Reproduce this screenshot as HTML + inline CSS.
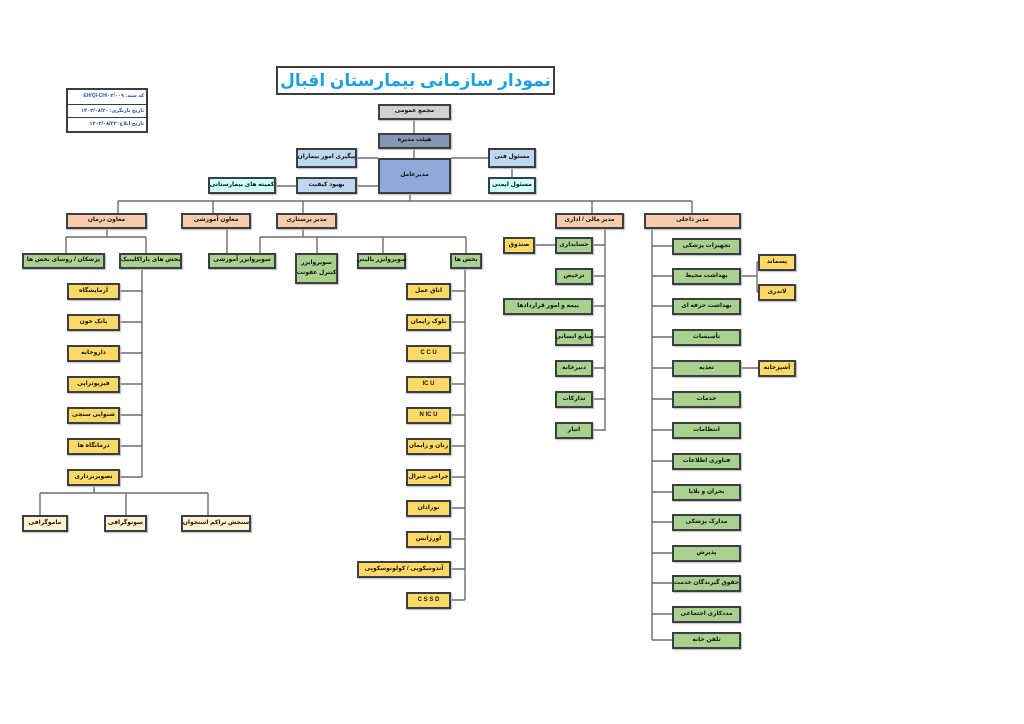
<!DOCTYPE html>
<html><head><meta charset="utf-8">
<style>
body{margin:0;width:1024px;height:724px;background:#fff;position:relative;overflow:hidden;font-family:"Liberation Sans","DejaVu Sans",sans-serif;}
.b{position:absolute;box-sizing:border-box;border:2px solid #3a3f44;display:flex;align-items:center;justify-content:center;font-size:6px;font-weight:bold;color:#111;direction:rtl;text-align:center;line-height:1.6;white-space:nowrap;box-shadow:1px 1px 1px #bbb;}
.y{background:#ffd966}.g{background:#a9d08e}.p{background:#f8cbad}.ly{background:#fff2cc}.lb{background:#bdd7ee}.c{background:#ccffff}
svg{position:absolute;left:0;top:0}
</style></head><body>
<svg width="1024" height="724" stroke="#6b6b6b" stroke-width="1.4" fill="none">
<path d="M414 120V133M414 149V158M357 158H378M451 158H488M512 168V177M357 186H378M276 186H296M410 194V201M118 201H692M118 201V213M213 201V213M303 201V213M592 201V213M692 201V213"/>
<path d="M107 229V237M66 237H146M66 237V253M146 237V253M142 269V477M120 291H142M120 322H142M120 353H142M120 384H142M120 415H142M120 446H142M120 477H142M94 485V493M40 493H208M40 493V515M126 493V515M208 493V515"/>
<path d="M227 229V253M303 229V237M260 237H466M260 237V253M317 237V253M383 237V253M466 237V253M465 269V600M451 291H465M451 322H465M451 353H465M451 384H465M451 415H465M451 446H465M451 477H465M451 508H465M451 539H465M451 569H465M451 600H465"/>
<path d="M605 229V431M593 245H605M535 245H555M593 276H605M593 306H605M593 337H605M593 368H605M593 399H605M593 430H605"/>
<path d="M652 229V640M652 246H672M652 276H672M652 306H672M652 337H672M652 368H672M652 399H672M652 430H672M652 461H672M652 492H672M652 522H672M652 553H672M652 583H672M652 614H672M652 640H672M741 276H757M757 262V292M757 262H758M757 292H758M741 368H758"/>
</svg>
<div class="b" style="left:276px;top:66px;width:279px;height:29px;background:#fff;box-shadow:none;font-size:17px;color:#1aa3e0;">نمودار سازمانی بیمارستان اقبال</div>
<div style="position:absolute;left:66px;top:88px;width:82px;height:45px;border:2px solid #3a3f44;box-sizing:border-box;font-size:5px;color:#2f5597;font-weight:bold;direction:rtl;white-space:nowrap;overflow:hidden;">
<div style="height:15px;border-bottom:1.5px solid #3a3f44;padding:3px 2px;box-sizing:border-box;">کد سند: EH/QI-CH/۰۲/۰۰۹</div>
<div style="height:13px;border-bottom:1.5px solid #3a3f44;padding:3px 2px;box-sizing:border-box;">تاریخ بازنگری: ۱۴۰۳/۰۸/۲۰</div>
<div style="padding:3px 2px;">تاریخ ابلاغ: ۱۴۰۳/۰۸/۲۲</div></div>

<div class="b" style="left:378px;top:104px;width:73px;height:16px;background:#d0d0d0">مجمع عمومی</div>
<div class="b" style="left:378px;top:133px;width:73px;height:16px;background:#8496b0">هیئت مدیره</div>
<div class="b" style="left:378px;top:158px;width:73px;height:36px;background:#8eaadb">مدیرعامل</div>
<div class="b lb" style="left:296px;top:148px;width:61px;height:20px">پیگیری امور بیماران</div>
<div class="b lb" style="left:488px;top:148px;width:48px;height:20px">مسئول فنی</div>
<div class="b c" style="left:488px;top:177px;width:48px;height:17px">مسئول ایمنی</div>
<div class="b lb" style="left:296px;top:177px;width:61px;height:17px">بهبود کیفیت</div>
<div class="b c" style="left:208px;top:177px;width:68px;height:17px">کمیته های بیمارستانی</div>

<div class="b p" style="left:66px;top:213px;width:81px;height:16px">معاون درمان</div>
<div class="b p" style="left:181px;top:213px;width:70px;height:16px">معاون آموزشی</div>
<div class="b p" style="left:276px;top:213px;width:61px;height:16px">مدیر پرستاری</div>
<div class="b p" style="left:555px;top:213px;width:69px;height:16px">مدیر مالی / اداری</div>
<div class="b p" style="left:644px;top:213px;width:97px;height:16px">مدیر داخلی</div>

<div class="b g" style="left:22px;top:253px;width:83px;height:16px">پزشکان / روسای بخش ها</div>
<div class="b g" style="left:119px;top:253px;width:63px;height:16px">بخش های پاراکلینیک</div>
<div class="b y" style="left:67px;top:283px;width:53px;height:17px">آزمایشگاه</div>
<div class="b y" style="left:67px;top:314px;width:53px;height:17px">بانک خون</div>
<div class="b y" style="left:67px;top:345px;width:53px;height:17px">داروخانه</div>
<div class="b y" style="left:67px;top:376px;width:53px;height:17px">فیزیوتراپی</div>
<div class="b y" style="left:67px;top:407px;width:53px;height:17px">شنوایی سنجی</div>
<div class="b y" style="left:67px;top:438px;width:53px;height:17px">درمانگاه ها</div>
<div class="b y" style="left:67px;top:469px;width:53px;height:17px">تصویربرداری</div>
<div class="b ly" style="left:22px;top:515px;width:46px;height:17px">ماموگرافی</div>
<div class="b ly" style="left:104px;top:515px;width:43px;height:17px">سونوگرافی</div>
<div class="b ly" style="left:181px;top:515px;width:70px;height:17px">سنجش تراکم استخوان</div>

<div class="b g" style="left:208px;top:253px;width:68px;height:16px">سوپروایزر آموزشی</div>
<div class="b g" style="left:295px;top:253px;width:43px;height:31px;flex-direction:column">سوپروایزر<br>کنترل عفونت</div>
<div class="b g" style="left:357px;top:253px;width:49px;height:16px">سوپروایزر بالینی</div>
<div class="b g" style="left:450px;top:253px;width:32px;height:16px">بخش ها</div>
<div class="b y" style="left:406px;top:283px;width:45px;height:17px">اتاق عمل</div>
<div class="b y" style="left:406px;top:314px;width:45px;height:17px">بلوک زایمان</div>
<div class="b y" style="left:406px;top:345px;width:45px;height:17px">C C U</div>
<div class="b y" style="left:406px;top:376px;width:45px;height:17px">IC U</div>
<div class="b y" style="left:406px;top:407px;width:45px;height:17px">N IC U</div>
<div class="b y" style="left:406px;top:438px;width:45px;height:17px">زنان و زایمان</div>
<div class="b y" style="left:406px;top:469px;width:45px;height:17px">جراحی جنرال</div>
<div class="b y" style="left:406px;top:500px;width:45px;height:17px">نوزادان</div>
<div class="b y" style="left:406px;top:531px;width:45px;height:17px">اورژانس</div>
<div class="b y" style="left:357px;top:561px;width:94px;height:17px">آندوسکوپی / کولونوسکوپی</div>
<div class="b y" style="left:406px;top:592px;width:45px;height:17px">C S S D</div>

<div class="b y" style="left:503px;top:237px;width:32px;height:17px">صندوق</div>
<div class="b g" style="left:555px;top:237px;width:38px;height:17px">حسابداری</div>
<div class="b g" style="left:555px;top:268px;width:38px;height:17px">ترخیص</div>
<div class="b g" style="left:503px;top:298px;width:90px;height:17px">بیمه و امور قراردادها</div>
<div class="b g" style="left:555px;top:329px;width:38px;height:17px">منابع انسانی</div>
<div class="b g" style="left:555px;top:360px;width:38px;height:17px">دبیرخانه</div>
<div class="b g" style="left:555px;top:391px;width:38px;height:17px">تدارکات</div>
<div class="b g" style="left:555px;top:422px;width:38px;height:17px">انبار</div>

<div class="b g" style="left:672px;top:238px;width:69px;height:17px">تجهیزات پزشکی</div>
<div class="b g" style="left:672px;top:268px;width:69px;height:17px">بهداشت محیط</div>
<div class="b g" style="left:672px;top:298px;width:69px;height:17px">بهداشت حرفه ای</div>
<div class="b g" style="left:672px;top:329px;width:69px;height:17px">تأسیسات</div>
<div class="b g" style="left:672px;top:360px;width:69px;height:17px">تغذیه</div>
<div class="b g" style="left:672px;top:391px;width:69px;height:17px">خدمات</div>
<div class="b g" style="left:672px;top:422px;width:69px;height:17px">انتظامات</div>
<div class="b g" style="left:672px;top:453px;width:69px;height:17px">فناوری اطلاعات</div>
<div class="b g" style="left:672px;top:484px;width:69px;height:17px">بحران و بلایا</div>
<div class="b g" style="left:672px;top:514px;width:69px;height:17px">مدارک پزشکی</div>
<div class="b g" style="left:672px;top:545px;width:69px;height:17px">پذیرش</div>
<div class="b g" style="left:672px;top:575px;width:69px;height:17px">حقوق گیرندگان خدمت</div>
<div class="b g" style="left:672px;top:606px;width:69px;height:17px">مددکاری اجتماعی</div>
<div class="b g" style="left:672px;top:632px;width:69px;height:17px">تلفن خانه</div>
<div class="b y" style="left:758px;top:254px;width:38px;height:17px">پسماند</div>
<div class="b y" style="left:758px;top:284px;width:38px;height:17px">لاندری</div>
<div class="b y" style="left:758px;top:360px;width:38px;height:17px">آشپزخانه</div>
</body></html>
